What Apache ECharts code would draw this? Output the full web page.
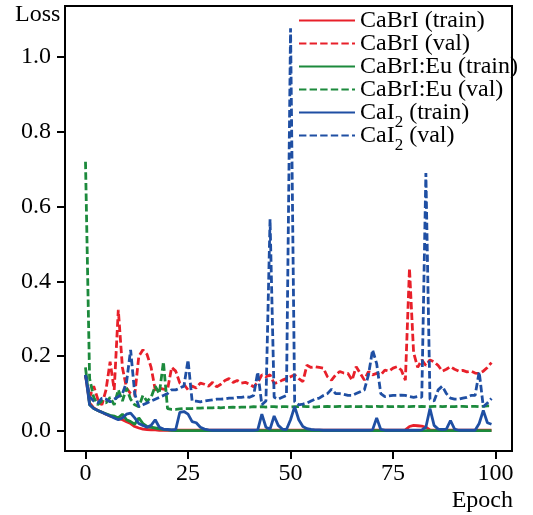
<!DOCTYPE html>
<html><head><meta charset="utf-8">
<script src="https://cdn.jsdelivr.net/npm/echarts@6/dist/echarts.min.js"></script>
<style>html,body{margin:0;padding:0;background:#fff}#c{width:533px;height:515px}</style>
</head><body><div id="c"></div>
<script>
// Series names (legend order)
const seriesNames = ['CaBrI (train)', 'CaBrI (val)', 'CaBrI:Eu (train)', 'CaBrI:Eu (val)', 'CaI2 (train)', 'CaI2 (val)'];
const xTicks = [0, 25, 50, 75, 100];
const yTicks = [0, 0.2, 0.4, 0.6, 0.8, 1.0];

// Loss values for epochs 0..99
const caBrITrain = [
 0.150,0.075,0.062,0.055,0.050,0.045,0.040,0.037,0.033,0.030,
 0.025,0.020,0.012,0.008,0.005,0.004,0.003,0.003,0.002,0.002,
 0.002,0.002,0.002,0.002,0.002,0.002,0.002,0.002,0.002,0.002,
 0.002,0.002,0.002,0.002,0.002,0.002,0.002,0.002,0.002,0.002,
 0.002,0.002,0.002,0.002,0.002,0.002,0.002,0.002,0.002,0.002,
 0.002,0.002,0.002,0.002,0.002,0.002,0.002,0.002,0.002,0.002,
 0.002,0.002,0.002,0.002,0.002,0.002,0.002,0.002,0.002,0.002,
 0.002,0.002,0.002,0.002,0.002,0.002,0.002,0.002,0.003,0.012,
 0.015,0.014,0.013,0.010,0.003,0.002,0.002,0.002,0.002,0.002,
 0.002,0.002,0.002,0.002,0.002,0.002,0.002,0.002,0.002,0.002];
const caBrIVal = [
 0.150,0.090,0.120,0.085,0.070,0.110,0.185,0.110,0.324,0.170,
 0.115,0.100,0.095,0.200,0.217,0.205,0.170,0.110,0.115,0.112,
 0.110,0.170,0.160,0.128,0.125,0.110,0.120,0.115,0.128,0.125,
 0.120,0.130,0.118,0.125,0.135,0.140,0.130,0.135,0.128,0.130,
 0.125,0.118,0.130,0.150,0.145,0.150,0.127,0.130,0.136,0.140,
 0.145,0.150,0.140,0.132,0.176,0.170,0.172,0.170,0.168,0.145,
 0.136,0.150,0.159,0.155,0.154,0.136,0.172,0.154,0.136,0.159,
 0.150,0.154,0.150,0.163,0.160,0.168,0.172,0.163,0.136,0.435,
 0.210,0.170,0.190,0.175,0.190,0.185,0.175,0.160,0.165,0.172,
 0.165,0.160,0.162,0.158,0.160,0.155,0.154,0.160,0.170,0.183];
const caBrIEuTrain = [
 0.170,0.070,0.060,0.055,0.050,0.046,0.042,0.040,0.035,0.045,
 0.030,0.025,0.018,0.035,0.020,0.012,0.010,0.008,0.006,0.004,
 0.003,0.002,0.001,0.001,0.001,0.001,0.001,0.001,0.001,0.001,
 0.001,0.001,0.001,0.001,0.001,0.001,0.001,0.001,0.001,0.001,
 0.001,0.001,0.001,0.001,0.001,0.001,0.001,0.001,0.001,0.001,
 0.001,0.001,0.001,0.001,0.001,0.001,0.001,0.001,0.001,0.001,
 0.001,0.001,0.001,0.001,0.001,0.001,0.001,0.001,0.001,0.001,
 0.001,0.001,0.001,0.001,0.001,0.001,0.001,0.001,0.001,0.001,
 0.001,0.001,0.001,0.001,0.001,0.001,0.001,0.001,0.001,0.001,
 0.001,0.001,0.001,0.001,0.001,0.001,0.001,0.001,0.001,0.001];
const caBrIEuVal = [
 0.720,0.140,0.090,0.070,0.080,0.075,0.090,0.070,0.110,0.080,
 0.115,0.085,0.070,0.065,0.095,0.080,0.090,0.120,0.100,0.185,
 0.060,0.058,0.058,0.059,0.060,0.060,0.060,0.061,0.061,0.062,
 0.062,0.062,0.063,0.062,0.063,0.063,0.064,0.063,0.064,0.064,
 0.064,0.065,0.064,0.065,0.064,0.065,0.065,0.064,0.065,0.065,
 0.064,0.065,0.065,0.066,0.065,0.065,0.064,0.065,0.065,0.066,
 0.065,0.065,0.066,0.065,0.065,0.066,0.065,0.065,0.066,0.065,
 0.065,0.066,0.065,0.066,0.065,0.065,0.066,0.065,0.066,0.065,
 0.066,0.065,0.066,0.065,0.065,0.066,0.066,0.065,0.066,0.065,
 0.065,0.066,0.066,0.065,0.066,0.066,0.065,0.066,0.067,0.067];
const caI2Train = [
 0.150,0.070,0.060,0.055,0.050,0.045,0.040,0.035,0.030,0.035,
 0.045,0.048,0.035,0.020,0.015,0.010,0.015,0.030,0.010,0.005,
 0.004,0.003,0.004,0.050,0.052,0.045,0.025,0.022,0.010,0.005,
 0.003,0.002,0.002,0.002,0.002,0.002,0.002,0.002,0.002,0.002,
 0.002,0.002,0.003,0.045,0.010,0.005,0.040,0.015,0.005,0.004,
 0.030,0.065,0.030,0.012,0.006,0.004,0.003,0.003,0.002,0.002,
 0.002,0.002,0.002,0.002,0.002,0.002,0.002,0.002,0.002,0.002,
 0.003,0.035,0.004,0.002,0.002,0.002,0.002,0.002,0.002,0.002,
 0.002,0.002,0.003,0.010,0.060,0.015,0.005,0.004,0.005,0.028,
 0.005,0.002,0.002,0.002,0.002,0.002,0.020,0.055,0.022,0.018];
const caI2Val = [
 0.150,0.092,0.080,0.075,0.088,0.085,0.078,0.085,0.092,0.100,
 0.130,0.217,0.100,0.065,0.070,0.075,0.080,0.085,0.090,0.095,
 0.100,0.110,0.110,0.115,0.120,0.190,0.080,0.080,0.078,0.080,
 0.082,0.083,0.085,0.085,0.086,0.088,0.088,0.090,0.090,0.092,
 0.090,0.095,0.158,0.070,0.080,0.566,0.090,0.085,0.090,0.095,
 1.077,0.078,0.070,0.072,0.075,0.080,0.085,0.088,0.095,0.100,
 0.112,0.100,0.100,0.098,0.095,0.095,0.100,0.105,0.110,0.150,
 0.217,0.180,0.100,0.092,0.094,0.095,0.095,0.096,0.095,0.092,
 0.090,0.092,0.090,0.690,0.085,0.080,0.110,0.120,0.100,0.088,
 0.085,0.085,0.088,0.090,0.095,0.095,0.158,0.065,0.075,0.087];

const seriesValues = [caBrITrain, caBrIVal, caBrIEuTrain, caBrIEuVal, caI2Train, caI2Val];
const RED = '#e8202a', GREEN = '#1c8a3c', BLUE = '#1f4fa3';
const colors = [RED, RED, GREEN, GREEN, BLUE, BLUE];
const dashed = [false, true, false, true, false, true];
const FONT = 'Liberation Serif';

const chart = echarts.init(document.getElementById('c'), null, {renderer: 'canvas'});
chart.setOption({
  animation: false,
  backgroundColor: '#fff',
  grid: {left: 65, top: 6, width: 447, height: 445, show: true, borderColor: '#000', borderWidth: 2, containLabel: false},
  xAxis: {
    type: 'value', min: -5, max: 104, position: 'bottom',
    axisLine: {show: true, onZero: false, lineStyle: {color: '#000', width: 2}},
    splitLine: {show: false},
    axisTick: {show: true, length: 8, lineStyle: {color: '#000', width: 2}, customValues: xTicks},
    axisLabel: {customValues: xTicks, fontFamily: FONT, fontSize: 24, color: '#000', margin: 11}
  },
  yAxis: {
    type: 'value', min: -0.0535, max: 1.1364, position: 'left',
    axisLine: {show: true, onZero: false, lineStyle: {color: '#000', width: 2}},
    splitLine: {show: false},
    axisTick: {show: true, length: 8, lineStyle: {color: '#000', width: 2}, customValues: yTicks},
    axisLabel: {customValues: yTicks, fontFamily: FONT, fontSize: 24, color: '#000', margin: 14,
      formatter: v => v.toFixed(1)}
  },
  legend: {
    orient: 'vertical', left: 293, top: 4,
    itemWidth: 56, itemHeight: 14, itemGap: -7,
    data: seriesNames,
    itemStyle: {color: 'rgba(0,0,0,0)', borderColor: 'rgba(0,0,0,0)', borderWidth: 0, opacity: 0},
    textStyle: {
      fontFamily: FONT, fontSize: 24, color: '#000',
      rich: {
        m: {fontFamily: FONT, fontSize: 24, lineHeight: 23, color: '#000', verticalAlign: 'top'},
        s: {fontFamily: FONT, fontSize: 17, lineHeight: 17, color: '#000', verticalAlign: 'top', padding: [13, 0, 0, 0]}
      }
    },
    formatter: function (name) {
      if (name.indexOf('CaI2') === 0) return '{m|CaI}{s|2}{m|' + name.slice(4) + '}';
      return '{m|' + name + '}{s| }';
    }
  },
  graphic: [
    {type: 'text', left: 15, top: 3, style: {text: 'Loss', font: '24px "Liberation Serif"', fill: '#000'}},
    {type: 'text', right: 20, top: 489, style: {text: 'Epoch', font: '24px "Liberation Serif"', fill: '#000'}}
  ],
  series: seriesNames.map((name, k) => ({
    name: name, type: 'line', symbol: 'none', showSymbol: false,
    color: colors[k],
    lineStyle: {color: colors[k], width: 2.8, type: dashed[k] ? [7.4, 3.2] : 'solid'},
    data: seriesValues[k].map((v, i) => [i, v]),
    z: 2 + k
  }))
});
</script>
</body></html>
